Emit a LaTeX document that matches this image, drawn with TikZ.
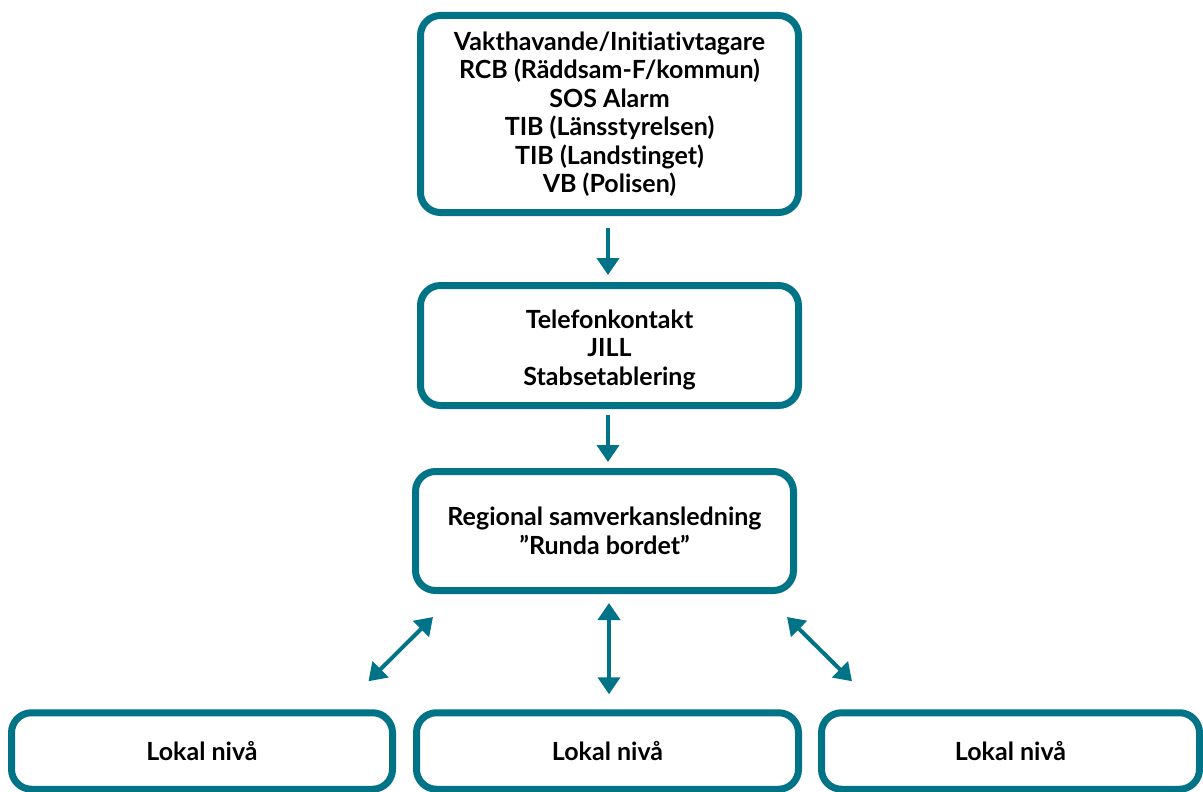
\documentclass[tikz,border=0pt]{standalone}
\usepackage{fontspec}
\setmainfont[Ligatures={NoCommon}]{Lato}
\usetikzlibrary{arrows.meta}
\definecolor{teal}{RGB}{0,115,135}
\tikzset{
  txt/.style={align=center, font=\fontsize{25}{28.5}\selectfont\bfseries, text=black, inner sep=0pt},
  box/.style={draw=teal, line width=7pt, rounded corners=20pt, outer sep=0pt, txt},
  arr/.style={draw=teal, line width=4pt, -{Triangle[width=22pt,length=17pt]}},
  darr/.style={draw=teal, line width=4pt, {Triangle[width=22pt,length=17pt]}-{Triangle[width=22pt,length=17pt]}}
}
\begin{document}
\begin{tikzpicture}[x=1pt,y=-1pt]
\useasboundingbox (0,0) rectangle (1203,792);
\node[box, minimum width=378pt, minimum height=197pt] (top) at (609.5,114)
  {Vakthavande/Initiativtagare\\RCB (Räddsam-F/kommun)\\SOS Alarm\\TIB (Länsstyrelsen)\\TIB (Landstinget)\\VB (Polisen)};
\node[box, minimum width=378pt, minimum height=120pt,
  label={[txt, yshift=-4pt]center:{Telefonkontakt\\JILL\\Stabsetablering}}] (tel) at (609.5,345.5) {};
\node[box, minimum width=378pt, minimum height=119pt] (reg) at (604.5,531)
  {Regional samverkansledning\\”Runda bordet”};
\node[box, minimum width=381pt, minimum height=76.5pt] (l1) at (202,751) {Lokal nivå};
\node[box, minimum width=382pt, minimum height=76.5pt] (l2) at (607.5,751) {Lokal nivå};
\node[box, minimum width=378pt, minimum height=76.5pt] (l3) at (1010.5,751) {Lokal nivå};
\draw[arr, shorten <=15.5pt, shorten >=10.5pt] ([xshift=-1.5pt]top.south) -- ([xshift=-1.5pt]tel.north);
\draw[arr, shorten <=9.5pt, shorten >=9.5pt] ([xshift=-1.5pt]tel.south) -- ([xshift=3.5pt]reg.north);
\draw[darr, shorten <=12.5pt, shorten >=18.5pt] ([xshift=4.5pt]reg.south) -- ([xshift=1.5pt]l2.north);
\draw[darr] ([shift={(17.5,26.5)}]reg.south west) -- ([shift={(-24,-31.5)}]l1.north east);
\draw[darr] ([shift={(-6.5,26.5)}]reg.south east) -- ([shift={(30.5,-31.5)}]l3.north west);
\end{tikzpicture}
\end{document}
